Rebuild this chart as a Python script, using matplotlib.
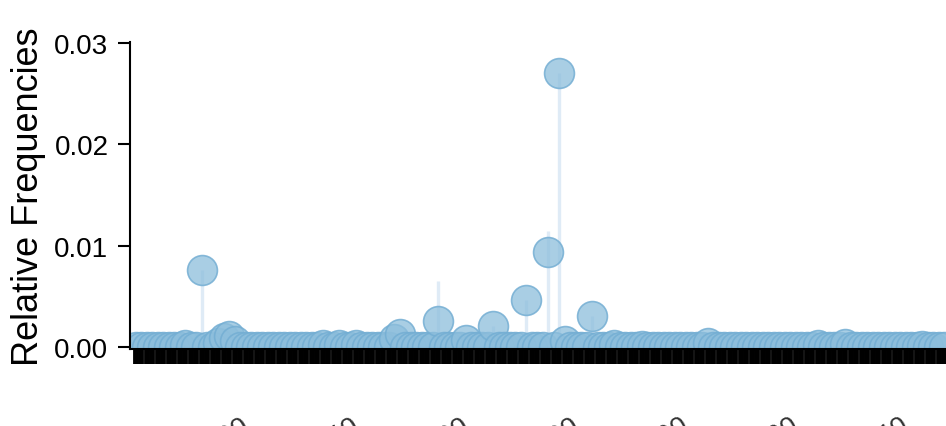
"""Lollipop chart of relative frequencies per category."""

import matplotlib.pyplot as plt
import numpy as np

plt.rcParams["font.family"] = ["Liberation Sans", "DejaVu Sans"]

# Number of categories on the x axis (the axis runs past the right edge)
n_categories = 148

# Categories with a non-zero relative frequency (all others are 0)
dot_index = [9, 12, 15, 16, 17, 18, 34, 37, 40, 47, 48, 55, 60, 65, 71, 75, 77, 78,
             83, 87, 92, 104, 124, 129, 143]
dot_value = [0.0002, 0.0076, 0.0004, 0.0009, 0.0011, 0.0006, 0.0002, 0.0002, 0.0002,
             0.0008, 0.0013, 0.0026, 0.0007, 0.0021, 0.0046, 0.0094, 0.0270, 0.0006,
             0.0031, 0.0002, 0.0001, 0.0004, 0.0002, 0.0003, 0.0001]

# Stems that reach higher than their dot
stem_index = [55, 75]
stem_value = [0.0065, 0.0114]

# Every 20th category carries a label
label_every = 20
label_start = 19
category_names = [f"Category {i + 1}" for i in range(n_categories)]

y_ticks = [0.00, 0.01, 0.02, 0.03]

# ---- build full series ----
x = np.arange(n_categories)
dots = np.zeros(n_categories)
dots[dot_index] = dot_value
stems = dots.copy()
stems[stem_index] = stem_value

dot_face = (0x8d / 255, 0xbe / 255, 0xdc / 255, 0.75)
dot_edge = (0x74 / 255, 0xae / 255, 0xd3 / 255, 0.85)
stem_color = "#dfebf6"

fig = plt.figure(figsize=(9.46, 4.27), dpi=100)
ax = fig.add_axes([130 / 946, 1 - 350 / 427, 816 / 946, 307 / 427])

# Stems (light, drawn behind the dots)
ax.vlines(x, 0, stems, color=stem_color, linewidth=2.4, zorder=1)

# Dots
ax.scatter(x, dots, s=21.5 ** 2, facecolor=dot_face, edgecolor=dot_edge,
           linewidth=1.2, zorder=2)

ax.set_xlim(-1.09, 147.3)
ax.set_ylim(-0.0002, 0.0301)

# Y axis
ax.set_yticks(y_ticks)
ax.set_yticklabels([f"{v:.2f}" for v in y_ticks])
ax.tick_params(axis="y", length=8.5, width=1.5, labelsize=20, pad=7, color="black")
ax.set_ylabel("Relative Frequencies", fontsize=26, labelpad=6)

# X axis: one dense tick per category, labels mostly off the canvas
ax.set_xticks(x)
labels = [name if (i - label_start) % label_every == 0 else "" for i, name in enumerate(category_names)]
ax.set_xticklabels(labels, rotation=30, ha="right", rotation_mode="anchor",
                   fontsize=20, color="#333333")
ax.tick_params(axis="x", length=10.8, width=4.2, pad=35, color="black")

for s in ["top", "right"]:
    ax.spines[s].set_visible(False)
ax.spines["left"].set_linewidth(1.5)
ax.spines["bottom"].set_linewidth(1.5)

fig.savefig("out.png", dpi=100)
